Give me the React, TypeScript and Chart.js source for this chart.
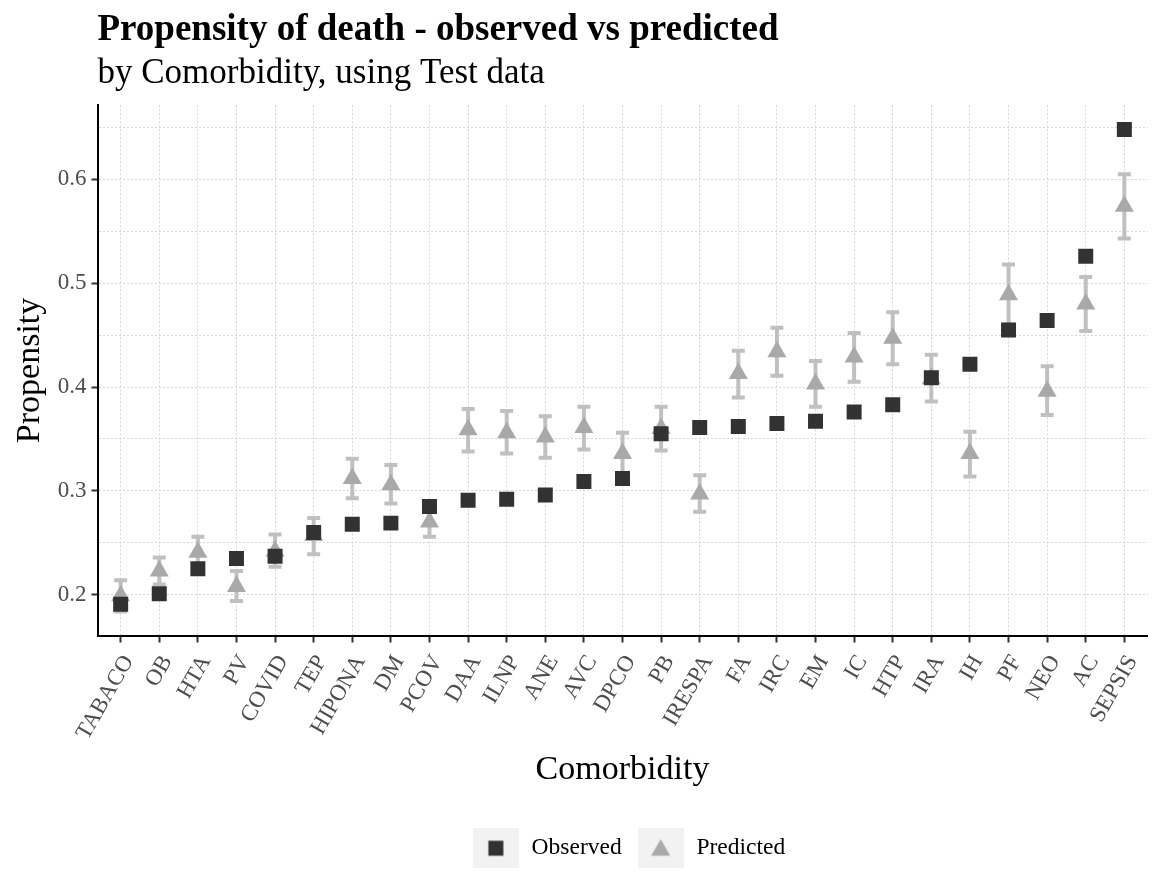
import React, { useEffect, useRef } from 'react';
import { Chart, registerables } from 'chart.js';

Chart.register(...registerables);

const categories = ['TABACO', 'OB', 'HTA', 'PV', 'COVID', 'TEP', 'HIPONA', 'DM', 'PCOV', 'DAA', 'ILNP', 'ANE', 'AVC', 'DPCO', 'PB', 'IRESPA', 'FA', 'IRC', 'EM', 'IC', 'HTP', 'IRA', 'IH', 'PF', 'NEO', 'AC', 'SEPSIS'];

const observed = [0.191, 0.201, 0.225, 0.235, 0.237, 0.260, 0.268, 0.269, 0.285, 0.291, 0.292, 0.296, 0.309, 0.312, 0.355, 0.361, 0.362, 0.365, 0.367, 0.376, 0.383, 0.409, 0.422, 0.455, 0.464, 0.526, 0.648];

const predicted = [0.199, 0.223, 0.241, 0.208, 0.242, 0.257, 0.312, 0.306, 0.270, 0.359, 0.356, 0.352, 0.361, 0.336, 0.360, 0.297, 0.413, 0.434, 0.403, 0.429, 0.447, 0.408, 0.336, 0.489, 0.396, 0.480, 0.574];

const predLower = [0.184, 0.210, 0.227, 0.194, 0.227, 0.239, 0.293, 0.288, 0.256, 0.338, 0.336, 0.332, 0.340, 0.316, 0.339, 0.280, 0.390, 0.411, 0.381, 0.405, 0.422, 0.386, 0.314, 0.460, 0.373, 0.454, 0.543];

const predUpper = [0.214, 0.236, 0.256, 0.223, 0.258, 0.274, 0.331, 0.325, 0.285, 0.379, 0.377, 0.372, 0.381, 0.356, 0.381, 0.315, 0.435, 0.457, 0.425, 0.452, 0.472, 0.431, 0.357, 0.518, 0.420, 0.506, 0.605];

const yGridValues = [0.2, 0.25, 0.3, 0.35, 0.4, 0.45, 0.5, 0.55, 0.6, 0.65];
const yTickLabels = ['0.2', '', '0.3', '', '0.4', '', '0.5', '', '0.6', ''];

const seriesNames = ['Observed', 'Predicted'];

const SERIF = "'Liberation Serif', 'Times New Roman', serif";
const OBS_COLOR = '#323232';
const PRED_COLOR = '#a9a9a9';
const ERR_COLOR = '#c0c0c0';
const GRID_COLOR = '#d6d6d6';
const TICK_TEXT = '#4d4d4d';

function makeKey(kind: string): HTMLCanvasElement {
  const c = document.createElement('canvas');
  c.width = 46;
  c.height = 40;
  const g = c.getContext('2d')!;
  g.fillStyle = '#f2f2f2';
  g.fillRect(0, 0, 46, 40);
  const cx = 23;
  const cy = 20;
  if (kind === 'rect') {
    g.fillStyle = OBS_COLOR;
    g.fillRect(cx - 7.5, cy - 7.5, 15, 15);
  } else {
    const r = 11;
    g.fillStyle = PRED_COLOR;
    g.beginPath();
    for (let k = 0; k < 3; k++) {
      const a = (k * 2 * Math.PI) / 3;
      const px = cx + Math.sin(a) * r;
      const py = cy - Math.cos(a) * r + 2;
      if (k === 0) g.moveTo(px, py);
      else g.lineTo(px, py);
    }
    g.closePath();
    g.fill();
  }
  return c;
}

const errorBarPlugin = {
  id: 'errorBars',
  beforeDatasetsDraw(chart: any) {
    const xs = chart.scales.x;
    const ys = chart.scales.y;
    const ctx = chart.ctx;
    ctx.save();
    ctx.strokeStyle = ERR_COLOR;
    ctx.lineWidth = 4;
    ctx.lineCap = 'butt';
    const half = 6.5;
    predLower.forEach((lo, i) => {
      const x = xs.getPixelForValue(i);
      const yl = ys.getPixelForValue(lo);
      const yu = ys.getPixelForValue(predUpper[i]);
      ctx.beginPath();
      ctx.moveTo(x, yl);
      ctx.lineTo(x, yu);
      ctx.moveTo(x - half, yl);
      ctx.lineTo(x + half, yl);
      ctx.moveTo(x - half, yu);
      ctx.lineTo(x + half, yu);
      ctx.stroke();
    });
    ctx.restore();
  },
};

const legendShiftPlugin = {
  id: 'legendShift',
  afterLayout(chart: any) {
    const lg = chart.legend;
    if (lg) {
      lg.left += 6;
      lg.right += 6;
    }
  },
};

export default function App() {
  const ref = useRef<HTMLCanvasElement | null>(null);

  useEffect(() => {
    if (!ref.current) return;
    const keys = [makeKey('rect'), makeKey('triangle')];
    const chart = new Chart(ref.current, {
      type: 'scatter',
      data: {
        datasets: [
          {
            label: seriesNames[0],
            data: observed.map((v, i) => ({ x: i, y: v })),
            pointStyle: 'rect',
            pointRadius: 10.6,
            backgroundColor: OBS_COLOR,
            borderWidth: 0,
            showLine: false,
          },
          {
            label: seriesNames[1],
            data: predicted.map((v, i) => ({ x: i, y: v })),
            pointStyle: 'triangle',
            pointRadius: 11,
            backgroundColor: PRED_COLOR,
            borderWidth: 0,
            showLine: false,
          },
        ],
      },
      plugins: [errorBarPlugin, legendShiftPlugin],
      options: {
        responsive: false,
        animation: false,
        events: [],
        layout: { autoPadding: false, padding: { left: 0, right: 4.5, top: 0, bottom: 1 } },
        scales: {
          x: {
            type: 'linear',
            min: -0.6,
            max: categories.length - 0.4,
            afterBuildTicks: (s: any) => {
              s.ticks = categories.map((_, i) => ({ value: i }));
            },
            afterFit: (s: any) => {
              s.height = 186;
              s.paddingLeft = 0;
              s.paddingRight = 0;
            },
            ticks: {
              autoSkip: false,
              minRotation: 60,
              maxRotation: 60,
              padding: 8,
              labelOffset: 8,
              color: TICK_TEXT,
              font: { family: SERIF, size: 23 },
              callback: (_v: any, i: number) => categories[i],
            },
            grid: {
              color: GRID_COLOR,
              lineWidth: 1,
              tickLength: 7,
              tickColor: '#333333',
              tickWidth: 2,
              tickBorderDash: [],
            },
            border: { display: true, color: '#000000', width: 2, dash: [2, 2] },
            title: {
              display: true,
              text: 'Comorbidity',
              color: '#000000',
              font: { family: SERIF, size: 34 },
              padding: { top: 0, bottom: 31 },
            },
          },
          y: {
            type: 'linear',
            min: 0.1608,
            max: 0.6712,
            afterBuildTicks: (s: any) => {
              s.ticks = yGridValues.map((v) => ({ value: v }));
            },
            afterFit: (s: any) => {
              s.width = 97.5;
            },
            ticks: {
              padding: 5,
              color: TICK_TEXT,
              font: { family: SERIF, size: 23 },
              callback: (_v: any, i: number) => yTickLabels[i],
            },
            grid: {
              color: GRID_COLOR,
              lineWidth: 1,
              tickLength: 6,
              tickWidth: 2,
              tickBorderDash: [],
              tickColor: (c: any) => (yTickLabels[c.index] ? '#333333' : 'rgba(0,0,0,0)'),
            },
            border: { display: true, color: '#000000', width: 2, dash: [2, 2] },
            title: {
              display: true,
              text: 'Propensity',
              color: '#000000',
              font: { family: SERIF, size: 34 },
              padding: { top: 10, bottom: 0 },
            },
          },
        },
        plugins: {
          tooltip: { enabled: false },
          title: {
            display: true,
            text: 'Propensity of death - observed vs predicted',
            align: 'start',
            fullSize: false,
            color: '#000000',
            font: { family: SERIF, size: 37, weight: 'bold' },
            padding: { top: 8, bottom: 0 },
          },
          subtitle: {
            display: true,
            text: 'by Comorbidity, using Test data',
            align: 'start',
            fullSize: false,
            color: '#000000',
            font: { family: SERIF, size: 35 },
            padding: { top: 0, bottom: 11 },
          },
          legend: {
            display: true,
            position: 'bottom',
            align: 'center',
            fullSize: false,
            labels: {
              usePointStyle: true,
              pointStyleWidth: 48,
              padding: 15,
              color: '#000000',
              font: { family: SERIF, size: 23.5 },
              generateLabels: () =>
                seriesNames.map((name, i) => ({
                  text: name,
                  fillStyle: i === 0 ? OBS_COLOR : PRED_COLOR,
                  strokeStyle: 'rgba(0,0,0,0)',
                  lineWidth: 0,
                  hidden: false,
                  datasetIndex: i,
                  pointStyle: keys[i],
                })),
            },
          },
        },
      } as any,
    });
    return () => chart.destroy();
  }, []);

  return (
    <div style={{ position: 'absolute', left: 0, top: 0, width: 1152, height: 871, background: '#ffffff' }}>
      <canvas ref={ref} width={1152} height={871} style={{ display: 'block' }} />
    </div>
  );
}
